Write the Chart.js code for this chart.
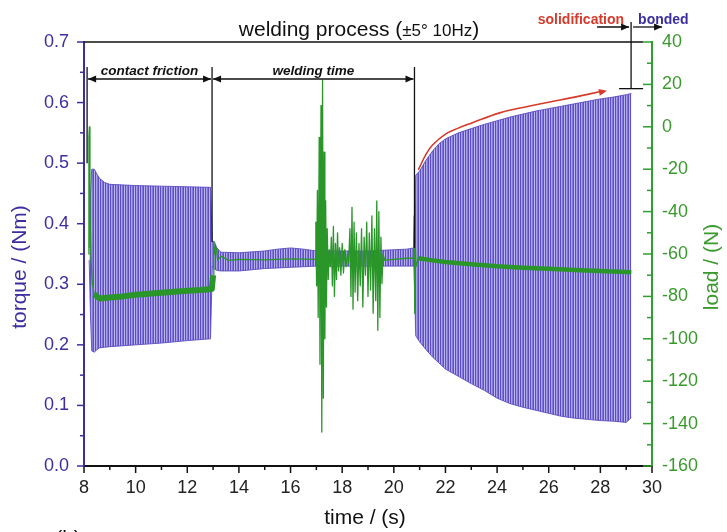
<!DOCTYPE html>
<html>
<head>
<meta charset="utf-8">
<script src="https://cdn.jsdelivr.net/npm/chart.js@4/dist/chart.umd.min.js"></script>
<style>
  html, body { margin: 0; padding: 0; background: #fff; }
  #wrap { width: 727px; height: 532px; }
</style>
</head>
<body>
<div id="wrap"><canvas id="weldChart" width="727" height="532"></canvas></div>
<script>
// ==================== DATA ====================

// torque envelope (Nm): upper / lower edge of the 10 Hz oscillation
const torqueT = [8.2, 8.25, 8.3, 8.4, 8.5, 8.6, 8.8, 9.0, 10, 11, 12, 12.9, 12.97, 13.05, 13.15, 13.3,
    14, 15, 15.5, 16, 16.5, 17, 18, 19, 20, 20.5, 20.78, 20.85, 21.0, 21.25, 21.5, 21.75, 22,
    22.5, 23, 23.5, 24, 24.5, 25, 25.5, 26, 26.5, 27, 27.5, 28, 28.5, 29, 29.2];
const torqueHigh = [0.36, 0.45, 0.49, 0.49, 0.482, 0.475, 0.468, 0.465, 0.463, 0.462, 0.461, 0.46, 0.37, 0.37, 0.36, 0.353,
    0.352, 0.355, 0.358, 0.36, 0.358, 0.355, 0.355, 0.355, 0.357, 0.358, 0.36, 0.48, 0.487, 0.505, 0.52, 0.532, 0.54,
    0.55, 0.557, 0.564, 0.57, 0.576, 0.581, 0.586, 0.59, 0.594, 0.598, 0.602, 0.606, 0.609, 0.613, 0.615];
const torqueLow = [0.34, 0.25, 0.19, 0.188, 0.192, 0.195, 0.196, 0.197, 0.2, 0.203, 0.207, 0.21, 0.33, 0.325, 0.323, 0.322,
    0.322, 0.326, 0.327, 0.328, 0.329, 0.33, 0.33, 0.33, 0.33, 0.33, 0.33, 0.215, 0.205, 0.192, 0.18, 0.17, 0.16,
    0.148, 0.136, 0.125, 0.112, 0.103, 0.097, 0.092, 0.087, 0.082, 0.079, 0.077, 0.075, 0.074, 0.072, 0.08];

// load trace (N)
const loadT = [8.17, 8.19, 8.21, 8.23, 8.27, 8.32, 8.4, 8.6, 9.0, 9.5, 10, 10.5, 11, 11.5, 12, 12.5, 12.95,
    13.0, 13.03, 13.07, 13.12, 13.18, 13.3, 13.6, 14, 15, 16, 16.95,
    16.98, 17.01, 17.04, 17.07, 17.11, 17.14, 17.18, 17.21, 17.24, 17.27, 17.3, 17.33, 17.36, 17.39, 17.42, 17.46, 17.5, 17.54,
    17.58, 17.62, 17.66, 17.7, 17.74, 17.78, 17.82, 17.86, 17.9, 17.95, 18.0, 18.05, 18.1, 18.15, 18.2, 18.25,
    18.3, 18.34, 18.38, 18.42, 18.46, 18.5, 18.55, 18.6, 18.65, 18.7, 18.75, 18.8, 18.85, 18.9, 18.95, 19.0,
    19.05, 19.1, 19.15, 19.2, 19.25, 19.3, 19.34, 19.38, 19.42, 19.46, 19.5, 19.54, 19.58, 19.65, 20.0, 20.5,
    20.76, 20.79, 20.81, 20.83, 20.86, 20.95, 21.5, 22, 23, 24, 25, 26, 27, 28, 29, 29.2];
const loadV = [-60, -5, 0, -40, -62, -74, -79, -81, -80.5, -80, -79.2, -78.8, -78.3, -77.8, -77.3, -77, -76.5,
    -70, -54, -60, -57, -63, -61, -63, -62.5, -62.8, -62.3, -62.5,
    -45, -75, -30, -90, -5, -112, 10, -144, 22, -128, -12, -100, -35, -85, -48, -72, -58, -66,
    -52, -75, -47, -80, -55, -72, -50, -68, -57, -70, -55, -69, -58, -66, -60, -64,
    -48, -80, -38, -86, -45, -78, -50, -82, -55, -75, -48, -85, -52, -70, -45, -80,
    -50, -77, -42, -88, -48, -82, -35, -96, -40, -90, -52, -74, -60, -63, -62.5, -62,
    -62, -42, -88, -55, -66, -62, -63, -63.8, -64.8, -65.8, -66.5, -67, -67.5, -68, -68.5, -68.6];

// solidification trend (torque, Nm)
const solidT = [20.95, 21.25, 21.5, 22, 22.45, 23, 24.1, 25, 26.05, 27, 28.1];
const solidV = [0.489, 0.515, 0.53, 0.548, 0.557, 0.566, 0.583, 0.592, 0.601, 0.609, 0.619];

// phase markers (s) and where their guide lines stop (Nm)
const phaseT = [8.12, 12.96, 20.8];
const phaseStop = [0.5, 0.37, 0.36];
const phaseLabels = ['contact friction', 'welding time'];
const bondT = 29.19;

// axis ticks
const xTicks = [8, 10, 12, 14, 16, 18, 20, 22, 24, 26, 28, 30];
const torqueTicks = [0.0, 0.1, 0.2, 0.3, 0.4, 0.5, 0.6, 0.7];
const loadTicks = [-160, -140, -120, -100, -80, -60, -40, -20, 0, 20, 40];

// ==================== STYLE ====================
const FONT = "'Liberation Sans', Arial, sans-serif";
const PURPLE_TXT = '#3d2f9e';
const GREEN_TXT = '#3a9a2e';
const GREEN_AX = '#2f9f2f';
const LOAD_COL = '#2a962a';
const RED = '#d63a2a';

function stripePattern() {
    const c = document.createElement('canvas');
    c.width = 5; c.height = 4;
    const g = c.getContext('2d');
    ['#5b4dc2', '#aaa2ea', '#8377db', '#5e50c4', '#bdb7f0'].forEach((col, i) => {
        g.fillStyle = col;
        g.fillRect(i, 0, 1, 4);
    });
    return g.createPattern(c, 'repeat');
}

const zip = (xs, ys) => xs.map((x, i) => ({ x: x, y: ys[i] }));

function arrowHead(ctx, x, y, ang, color) {
    ctx.save();
    ctx.translate(x, y);
    ctx.rotate(ang);
    ctx.beginPath();
    ctx.moveTo(0, 0);
    ctx.lineTo(-8, -3.5);
    ctx.lineTo(-8, 3.5);
    ctx.closePath();
    ctx.fillStyle = color;
    ctx.fill();
    ctx.restore();
}

function hArrow(ctx, x1, x2, y, both) {
    ctx.beginPath();
    ctx.moveTo(x1, y);
    ctx.lineTo(x2, y);
    ctx.stroke();
    arrowHead(ctx, x2, y, 0, '#111');
    if (both) arrowHead(ctx, x1, y, Math.PI, '#111');
}

// ==================== ANNOTATIONS ====================
const annotations = {
    id: 'annotations',
    afterDraw(chart) {
        const ctx = chart.ctx;
        const xs = chart.scales.x, ys = chart.scales.y, ys2 = chart.scales.y2;
        const area = chart.chartArea;
        ctx.save();

        // minor / custom ticks
        ctx.lineWidth = 1.5;
        ctx.strokeStyle = '#111';
        for (let v = 8; v <= 30; v++) {
            const px = xs.getPixelForValue(v);
            const len = v % 2 === 0 ? 7 : 4;
            ctx.beginPath(); ctx.moveTo(px, area.bottom); ctx.lineTo(px, area.bottom + len); ctx.stroke();
        }
        ctx.strokeStyle = PURPLE_TXT;
        for (let i = 0; i <= 14; i++) {
            const py = ys.getPixelForValue(i * 0.05);
            const len = i % 2 === 0 ? 7 : 4;
            ctx.beginPath(); ctx.moveTo(area.left, py); ctx.lineTo(area.left - len, py); ctx.stroke();
        }
        ctx.strokeStyle = GREEN_AX;
        for (let v = -160; v <= 40; v += 10) {
            const py = ys2.getPixelForValue(v);
            const len = v % 20 === 0 ? 9 : 5;
            ctx.beginPath(); ctx.moveTo(area.right, py); ctx.lineTo(area.right - len, py); ctx.stroke();
        }

        // top frame line
        ctx.strokeStyle = '#111';
        ctx.lineWidth = 1.5;
        ctx.beginPath();
        ctx.moveTo(area.left, area.top);
        ctx.lineTo(xs.getPixelForValue(29.65), area.top);
        ctx.stroke();

        // title
        ctx.fillStyle = '#111';
        ctx.textBaseline = 'alphabetic';
        ctx.textAlign = 'left';
        const t1 = 'welding process (', t2 = '\u00b15\u00b0 10Hz', t3 = ')';
        ctx.font = '21px ' + FONT;
        const w1 = ctx.measureText(t1).width, w3 = ctx.measureText(t3).width;
        ctx.font = '17px ' + FONT;
        const w2 = ctx.measureText(t2).width;
        let tx = 359 - (w1 + w2 + w3) / 2;
        ctx.font = '21px ' + FONT; ctx.fillText(t1, tx, 36); tx += w1;
        ctx.font = '17px ' + FONT; ctx.fillText(t2, tx, 36); tx += w2;
        ctx.font = '21px ' + FONT; ctx.fillText(t3, tx, 36);

        // phase guide lines + arrows
        ctx.lineWidth = 1.3;
        const px = phaseT.map(t => xs.getPixelForValue(t));
        phaseT.forEach((t, i) => {
            ctx.beginPath();
            ctx.moveTo(px[i], 67);
            ctx.lineTo(px[i], ys.getPixelForValue(phaseStop[i]));
            ctx.stroke();
        });
        ctx.font = 'italic bold 13.5px ' + FONT;
        ctx.textAlign = 'center';
        for (let i = 0; i < phaseLabels.length; i++) {
            hArrow(ctx, px[i] + 1, px[i + 1] - 1, 79, true);
            ctx.fillText(phaseLabels[i], (px[i] + px[i + 1]) / 2, 75);
        }

        // solidification / bonded marker
        const bx = xs.getPixelForValue(bondT);
        const by = ys.getPixelForValue(0.623);
        ctx.beginPath(); ctx.moveTo(bx, 22); ctx.lineTo(bx, by); ctx.stroke();
        ctx.beginPath(); ctx.moveTo(bx - 12, by); ctx.lineTo(bx + 12, by); ctx.stroke();
        hArrow(ctx, bx - 34, bx - 2, 27, false);
        hArrow(ctx, bx + 2, bx + 31, 27, false);
        ctx.font = 'bold 14px ' + FONT;
        ctx.textAlign = 'right';
        ctx.fillStyle = RED;
        ctx.fillText('solidification', bx - 7, 24);
        ctx.textAlign = 'left';
        ctx.fillStyle = '#3a2fa0';
        ctx.fillText('bonded', bx + 7, 24);

        // red trend arrow head
        const n = solidT.length;
        const ex = xs.getPixelForValue(solidT[n - 1]), ey = ys.getPixelForValue(solidV[n - 1]);
        const sx = xs.getPixelForValue(solidT[n - 2]), sy = ys.getPixelForValue(solidV[n - 2]);
        arrowHead(ctx, ex + 4, ey - 0.3, Math.atan2(ey - sy, ex - sx), RED);

        // axis titles
        ctx.textAlign = 'center';
        ctx.textBaseline = 'middle';
        ctx.font = '21px ' + FONT;
        ctx.fillStyle = '#111';
        ctx.fillText('time / (s)', 365, 518);
        ctx.fillText('(b)', 68, 539);
        ctx.save();
        ctx.translate(20, 267);
        ctx.rotate(-Math.PI / 2);
        ctx.fillStyle = PURPLE_TXT;
        ctx.fillText('torque / (Nm)', 0, 0);
        ctx.restore();
        ctx.save();
        ctx.translate(712, 267);
        ctx.rotate(-Math.PI / 2);
        ctx.fillStyle = GREEN_TXT;
        ctx.fillText('load / (N)', 0, 0);
        ctx.restore();

        ctx.restore();
    }
};

// ==================== CHART ====================
const weldChart = new Chart(document.getElementById('weldChart'), {
    type: 'line',
    data: {
        datasets: [
            {
                label: 'solidification',
                data: zip(solidT, solidV),
                yAxisID: 'y',
                borderColor: RED,
                borderWidth: 1.6,
                tension: 0.4,
                pointRadius: 0,
                fill: false,
                order: 0
            },
            {
                label: 'load',
                data: zip(loadT, loadV),
                yAxisID: 'y2',
                borderColor: LOAD_COL,
                borderWidth: 1.3,
                borderJoinStyle: 'round',
                pointRadius: 0,
                fill: false,
                order: 1,
                segment: {
                    borderWidth: c => {
                        const x = c.p0.parsed.x;
                        if (x > 8.35 && x < 12.97) return 6;
                        if (x > 20.9) return 4.5;
                        return 1.3;
                    }
                }
            },
            {
                label: 'torque high',
                data: zip(torqueT, torqueHigh),
                yAxisID: 'y',
                borderColor: '#5a4cbc',
                borderWidth: 0.9,
                pointRadius: 0,
                fill: false,
                order: 2
            },
            {
                label: 'torque low',
                data: zip(torqueT, torqueLow),
                yAxisID: 'y',
                borderColor: '#5a4cbc',
                borderWidth: 0.9,
                pointRadius: 0,
                backgroundColor: stripePattern(),
                fill: '-1',
                order: 3
            }
        ]
    },
    options: {
        responsive: false,
        animation: false,
        layout: { padding: { top: 42, left: 0, right: 0, bottom: 0 } },
        plugins: {
            legend: { display: false },
            tooltip: { enabled: false }
        },
        scales: {
            x: {
                type: 'linear',
                min: 8, max: 30,
                afterBuildTicks: s => { s.ticks = xTicks.map(v => ({ value: v })); },
                ticks: { color: '#222', font: { family: FONT, size: 18 }, padding: 11, maxRotation: 0, autoSkip: false },
                grid: { drawOnChartArea: false, drawTicks: false },
                border: { color: '#111', width: 2 },
                afterFit: s => { s.height = 66; }
            },
            y: {
                position: 'left',
                min: 0, max: 0.7,
                afterBuildTicks: s => { s.ticks = torqueTicks.map(v => ({ value: v })); },
                ticks: { color: PURPLE_TXT, font: { family: FONT, size: 18 }, padding: 15, callback: v => v.toFixed(1) },
                grid: { drawOnChartArea: false, drawTicks: false },
                border: { color: '#3b2f9e', width: 2 },
                afterFit: s => { s.width = 84; }
            },
            y2: {
                position: 'right',
                min: -160, max: 40,
                afterBuildTicks: s => { s.ticks = loadTicks.map(v => ({ value: v })); },
                ticks: { color: GREEN_TXT, font: { family: FONT, size: 18 }, padding: 10 },
                grid: { drawOnChartArea: false, drawTicks: false },
                border: { color: GREEN_AX, width: 2 },
                afterFit: s => { s.width = 75; }
            }
        }
    },
    plugins: [annotations]
});
</script>
</body>
</html>
